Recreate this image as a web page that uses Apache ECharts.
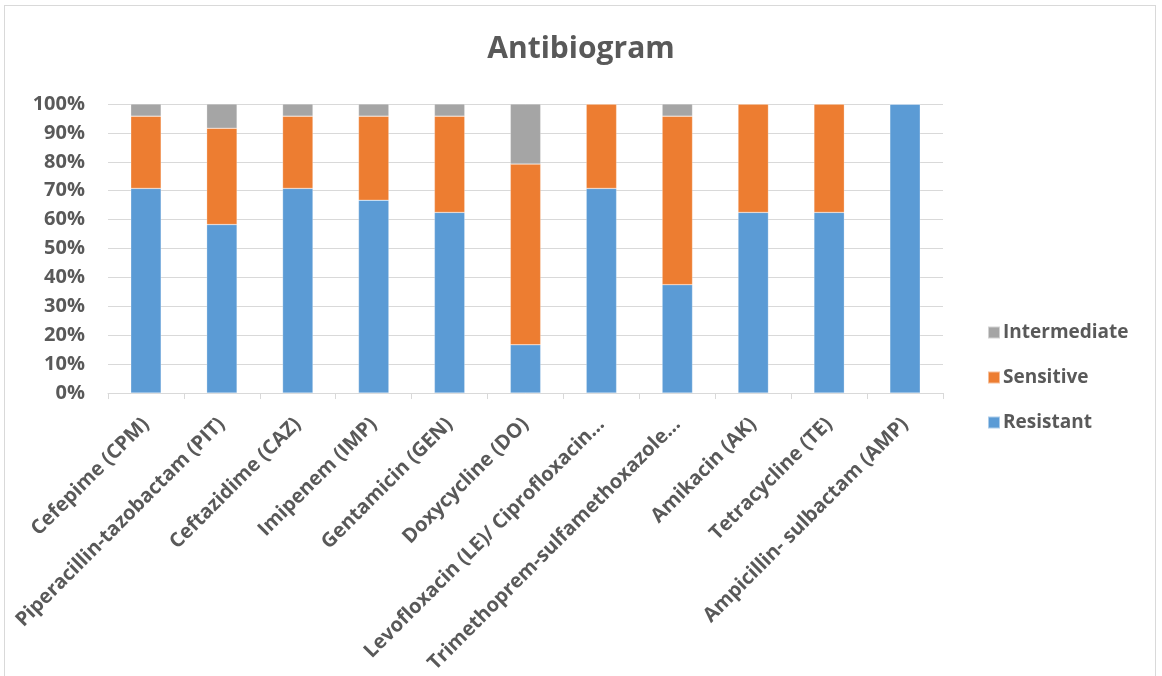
<!DOCTYPE html>
<html>
<head>
<meta charset="utf-8">
<script src="https://cdn.jsdelivr.net/npm/echarts@6/dist/echarts.min.js"></script>
<style>
html,body{margin:0;padding:0;background:#fff;overflow:hidden;}
#frame{position:absolute;left:4px;top:5px;width:1152px;height:700px;border:1px solid #d9d9d9;box-sizing:border-box;}
#chart{position:absolute;left:0;top:0;width:1162px;height:676px;}
</style>
</head>
<body>
<div id="frame"></div>
<div id="chart"></div>
<script>
const categories = [
  "Cefepime (CPM)",
  "Piperacillin-tazobactam (PIT)",
  "Ceftazidime (CAZ)",
  "Imipenem (IMP)",
  "Gentamicin (GEN)",
  "Doxycycline (DO)",
  "Levofloxacin (LE)/ Ciprofloxacin…",
  "Trimethoprem-sulfamethoxazole…",
  "Amikacin (AK)",
  "Tetracycline (TE)",
  "Ampicillin- sulbactam (AMP)"
];
const resistant    = [70.8, 58.3, 70.8, 66.7, 62.5, 16.7, 70.8, 37.5, 62.5, 62.5, 100];
const sensitive    = [25.0, 33.3, 25.0, 29.1, 33.3, 62.5, 29.2, 58.3, 37.5, 37.5, 0];
const intermediate = [4.2, 8.4, 4.2, 4.2, 4.2, 20.8, 0, 4.2, 0, 0, 0];
const yTicks = [0, 10, 20, 30, 40, 50, 60, 70, 80, 90, 100];

const FONT = "Open Sans";
const TXT = "#595959";
const chart = echarts.init(document.getElementById('chart'), null, {renderer: 'canvas'});
const barCommon = {type: 'bar', stack: 'total', barWidth: '40%',
  itemStyle: {borderColor: 'rgba(255,255,255,0.5)', borderWidth: 0.5}};
chart.setOption({
  animation: false,
  textStyle: {fontFamily: FONT},
  title: {
    text: 'Antibiogram', left: 'center', top: 29,
    textStyle: {fontFamily: FONT, fontSize: 30, fontWeight: 'bold', color: TXT}
  },
  legend: {
    orient: 'vertical', left: 982, top: 318,
    itemWidth: 12, itemHeight: 12, itemGap: 26, icon: 'rect',
    data: ['Intermediate', 'Sensitive', 'Resistant'],
    textStyle: {fontFamily: FONT, fontSize: 19, fontWeight: 'bold', color: TXT, padding: [0,0,0,-2]}
  },
  grid: {left: 108, right: 219, top: 104, height: 290, containLabel: false},
  xAxis: {
    type: 'category', data: categories,
    axisLine: {lineStyle: {color: '#d9d9d9', width: 1}},
    axisTick: {show: true, alignWithLabel: false, length: 6, lineStyle: {color: '#d9d9d9'}},
    axisLabel: {rotate: 45, interval: 0, margin: 28, fontFamily: FONT, fontSize: 20, fontWeight: 'bold', color: TXT}
  },
  yAxis: {
    type: 'value', min: 0, max: 100, interval: 10,
    axisLine: {show: false}, axisTick: {show: false},
    splitLine: {lineStyle: {color: '#d9d9d9', width: 1}},
    axisLabel: {margin: 23, fontFamily: FONT, fontSize: 20, fontWeight: 'bold', color: TXT,
      formatter: v => yTicks.includes(v) ? v + '%' : ''}
  },
  series: [
    Object.assign({}, barCommon, {name: 'Resistant', data: resistant, itemStyle: Object.assign({}, barCommon.itemStyle, {color: '#5b9bd5'})}),
    Object.assign({}, barCommon, {name: 'Sensitive', data: sensitive, itemStyle: Object.assign({}, barCommon.itemStyle, {color: '#ed7d31'})}),
    Object.assign({}, barCommon, {name: 'Intermediate', data: intermediate, itemStyle: Object.assign({}, barCommon.itemStyle, {color: '#a5a5a5'})})
  ]
});
</script>
</body>
</html>
